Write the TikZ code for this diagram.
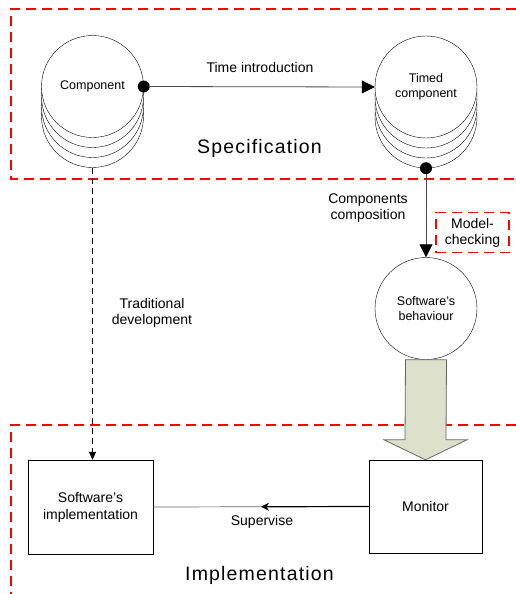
\documentclass[tikz,border=0pt]{standalone}
\usepackage{fontspec}
\setmainfont{Liberation Sans}
\usetikzlibrary{arrows.meta,calc,positioning}
\definecolor{arrowfill}{RGB}{221,224,203}
\tikzset{
  regionbox/.style={draw=red, line width=1.2pt, dash pattern=on 10pt off 6pt},
  disc/.style={circle, draw, fill=white, minimum size=102pt, inner sep=0pt, align=center, font=\fontsize{12.5}{14.5}\selectfont},
  block/.style={draw, fill=white, align=center, font=\fontsize{14}{17}\selectfont},
  lbl/.style={align=center, font=\fontsize{14}{16}\selectfont},
  title/.style={font=\fontsize{19.5}{22}\selectfont\addfontfeatures{LetterSpace=6}},
  dot/.style={circle, fill, inner sep=0pt, minimum size=12pt},
}
\begin{document}
\begin{tikzpicture}[x=1pt,y=-1pt]
  \useasboundingbox (0,0) rectangle (516,594);
  % regions
  \draw[regionbox] (516,9) -- (11,9) -- (11,179) -- (516,179);
  \draw[regionbox] (516,425) -- (11,425) -- (11,594);
  % component stacks
  \node[disc] (comp3) at (92.5,116.5) {};
  \node[disc] (comp2) at (92.5,106.5) {};
  \node[disc] (comp1) at (92.5,96.5) {};
  \node[disc] (comp) at (92.5,86.5) {Component};
  \node[disc] (timed3) at (426,117) {};
  \node[disc] (timed2) at (426,107) {};
  \node[disc] (timed1) at (426,97) {};
  \node[disc] (timed) at (426,87) {Timed\\component};
  \node[dot] (compdot) at (comp.east) {};
  \node[dot] (timeddot) at (timed3.south) {};
  \node[disc] (beh) at (426,308.5) {Software’s\\behaviour};
  % boxes
  \node[block, minimum width=125pt, minimum height=94pt] (impl) at (90.5,507) {Software’s\\implementation};
  \node[block, minimum width=113pt, minimum height=93pt] (mon) at (425.5,506.5) {Monitor};
  \node[lbl, regionbox, minimum width=73pt, minimum height=40pt, inner sep=1pt] (mc) at (472.5,232.7) {Model-\\checking};
  % labels
  \node[lbl] (tintro) at (260,67) {Time introduction};
  \node[lbl] (ccomp) at (368,208.5) {Components\\composition};
  \node[lbl] (trad) at (152,312.5) {Traditional\\development};
  \node[lbl] (sup) at (262,522) {Supervise};
  \node[title] (spec) at (259.5,148) {Specification};
  \node[title] (impltitle) at (259.5,575) {Implementation};
  % connectors
  \draw[line width=0.8pt, black!70, -{Triangle[length=13pt,width=13pt,black]}] (compdot) -- (timed.west);
  \draw[line width=0.8pt, black!70, -{Triangle[length=13pt,width=13pt,black]}] (timeddot) -- (beh.north);
  \draw[line width=0.7pt, dash pattern=on 6pt off 4pt, -{Triangle[length=8pt,width=7pt]}] (comp3.south) -- (comp3.south |- impl.north);
  \coordinate (supmid) at ($(impl.east)!0.5!(mon.west)$);
  \draw[black!60, line width=0.7pt] (impl.east) -- (supmid);
  \draw[line width=1.2pt, -{Stealth[length=8pt,width=8pt]}] (mon.west) -- (supmid);
  \draw[draw=black!60, line width=0.8pt, fill=arrowfill] ($(beh.south)+(-20.5,0)$) -- ++(41,0)
    -- ($(mon.north)+(20.5,-20)$) -- ++(21,0) -- (mon.north) -- ($(mon.north)+(-41.5,-20)$) -- ++(21,0) -- cycle;
\end{tikzpicture}
\end{document}
